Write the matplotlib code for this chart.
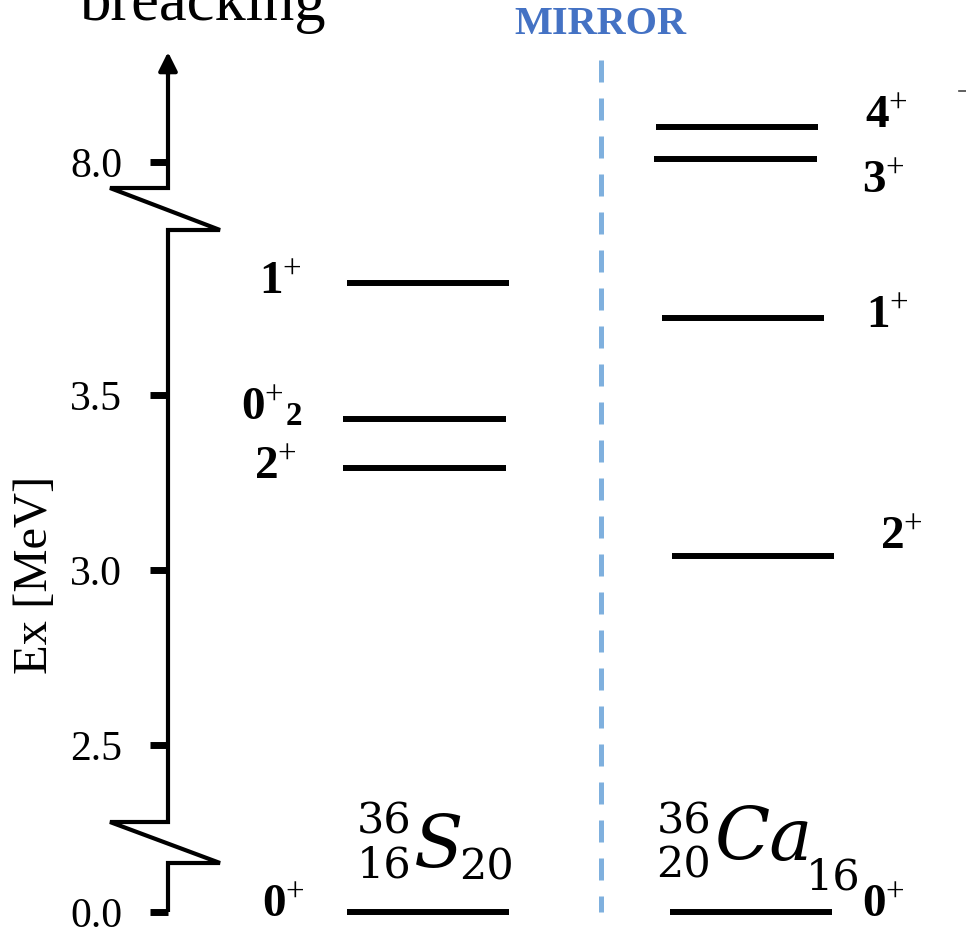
import numpy as np
import matplotlib
matplotlib.use("Agg")
import matplotlib.pyplot as plt
import matplotlib.transforms as mtransforms

plt.rcParams['font.family'] = ['Liberation Serif', 'DejaVu Serif']
plt.rcParams['mathtext.fontset'] = 'custom'
plt.rcParams['mathtext.rm'] = 'Liberation Serif'
plt.rcParams['mathtext.it'] = 'Liberation Serif:italic'
plt.rcParams['mathtext.bf'] = 'Liberation Serif:bold'

# ---------------- data ----------------
s36_energies = [0.0, 3.29, 3.43, 3.82]
s36_labels = [r'$\mathbf{0}^{+}$', r'$\mathbf{2}^{+}$', r'$\mathbf{0}^{+}{}_{\mathbf{2}}$', r'$\mathbf{1}^{+}$']
ca36_energies = [0.0, 3.04, 3.72, 8.01, 8.10]
ca36_labels = [r'$\mathbf{0}^{+}$', r'$\mathbf{2}^{+}$', r'$\mathbf{1}^{+}$', r'$\mathbf{3}^{+}$', r'$\mathbf{4}^{+}$']
tick_values = [0.0, 2.5, 3.0, 3.5, 8.0]
tick_labels = ['0.0', '2.5', '3.0', '3.5', '8.0']

# ---------------- broken-axis scale (piecewise linear) ----------------
W, H = 966, 933
E_knots = np.array([-1.0, 0.0, 0.15, 2.28, 3.97, 7.9, 9.0])
P_knots = np.array([912 + 350, 912, 859.5, 822, 230.5, 197, 162 - 350])  # pixel from top
Y_knots = H - P_knots


def forward(e):
    return np.interp(e, E_knots, Y_knots)


def inverse(y):
    return np.interp(y, Y_knots, E_knots)


fig = plt.figure(figsize=(W / 100, H / 100), dpi=100)
ax = fig.add_axes([0, 0, 1, 1])
ax.set_yscale('function', functions=(forward, inverse))
ax.set_xlim(0, W)
ax.set_ylim(inverse(0), inverse(H))
for s in ax.spines.values():
    s.set_visible(False)
ax.spines['left'].set_position(('data', 168))
ax.set_xticks([])
ax.set_yticks(tick_values)
ax.set_yticklabels(tick_labels, fontsize=30)
ax.yaxis.set_minor_locator(matplotlib.ticker.NullLocator())
ax.tick_params(axis='y', direction='out', length=13, width=5, pad=20, colors='k')

# pixel-based transform (pixels from top-left) for free text
pix = mtransforms.Affine2D().scale(1 / W, -1 / H).translate(0, 1) + fig.transFigure


def e_of(p):
    return inverse(H - p)


# axis line with breaks
ax_x = [168, 168, 110, 220, 168, 168, 110, 220, 168, 168]
ax_p = [70, 188, 188, 230, 230, 822, 822, 863, 863, 912]
ax.plot(ax_x, [e_of(p) for p in ax_p], color='k', lw=3.0, solid_joinstyle='miter',
        solid_capstyle='butt')
ax.annotate('', xy=(168, e_of(52)), xytext=(168, e_of(75)),
            arrowprops=dict(arrowstyle='-|>', lw=3.0, color='k', mutation_scale=28,
                            shrinkA=0, shrinkB=0))

# levels
s36_x = [(347, 509), (343, 506), (343, 506), (347, 509)]
ca36_x = [(670, 832), (672, 834), (662, 824), (654, 817), (656, 818)]
for e, (x0, x1) in zip(s36_energies, s36_x):
    ax.plot([x0, x1], [e, e], color='k', lw=4.3, solid_capstyle='butt')
for e, (x0, x1) in zip(ca36_energies, ca36_x):
    ax.plot([x0, x1], [e, e], color='k', lw=4.3, solid_capstyle='butt')

# level labels (x pixel, vertical offset in pixels relative to level)
s36_lab_pos = [(305, 6), (297, 0), (302, 12), (302, 0)]
ca36_lab_pos = [(862, 6), (880, 18), (866, 1), (862, -24), (865, 10)]
for e, lab, (x, dy) in zip(s36_energies, s36_labels, s36_lab_pos):
    ax.annotate(lab, xy=(x, e), xytext=(0, dy * 0.72), textcoords='offset points',
                ha='right', va='center', fontsize=34)
for e, lab, (x, dy) in zip(ca36_energies, ca36_labels, ca36_lab_pos):
    ax.annotate(lab, xy=(x, e), xytext=(0, dy * 0.72), textcoords='offset points',
                ha='left', va='center', fontsize=34)

# mirror line
ax.plot([601, 601], [e_of(60), e_of(912)], color='#7FB0DE', lw=3.6,
        dashes=(4.4, 3.2))
ax.text(600, 25, 'MIRROR', transform=pix, ha='center', va='center',
        fontsize=29, fontweight='bold', color='#4472C4')

# tiny stray mark at right edge
ax.plot([959, 966], [91, 91], transform=pix, color='#444444', lw=1.2)

# nuclide labels
nf = 'DejaVu Serif'
ax.text(411, 822, '36', transform=pix, ha='right', va='center', fontsize=31, family=nf)
ax.text(411, 866, '16', transform=pix, ha='right', va='center', fontsize=31, family=nf)
ax.text(414, 848, 'S', transform=pix, ha='left', va='center', fontsize=52, style='italic', family=nf)
ax.text(459, 868, '20', transform=pix, ha='left', va='center', fontsize=31, family=nf)

ax.text(711, 822, '36', transform=pix, ha='right', va='center', fontsize=31, family=nf)
ax.text(711, 866, '20', transform=pix, ha='right', va='center', fontsize=31, family=nf)
ax.text(714, 840, 'Ca', transform=pix, ha='left', va='center', fontsize=52, style='italic', family=nf)
ax.text(806, 878, '16', transform=pix, ha='left', va='center', fontsize=31, family=nf)

# axis title and cut title
ax.text(35, 575, 'Ex [MeV]', transform=pix, ha='center', va='center', rotation=90, fontsize=35)
ax.text(203, 20, 'breacking', transform=pix, ha='center', va='baseline', fontsize=45)

fig.savefig('out.png', dpi=100)
